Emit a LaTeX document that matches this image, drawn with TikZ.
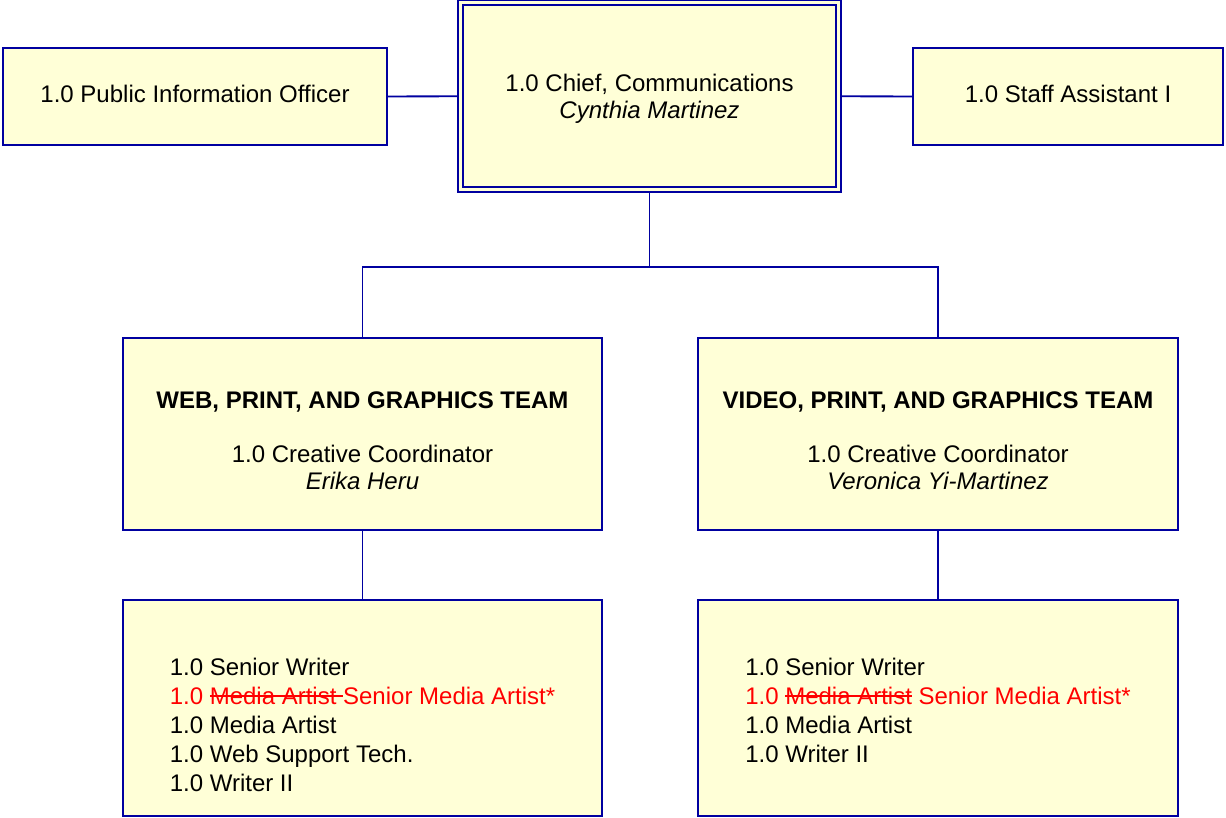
\documentclass[tikz,border=0pt]{standalone}
\usepackage{fontspec}
\setmainfont{Liberation Sans}
\usepackage{xcolor}
\definecolor{boxfill}{RGB}{255,255,215}
\definecolor{boxline}{RGB}{0,0,160}
\newcommand\crossout[1]{\setbox0\hbox{#1}\rlap{\rule[0.32em]{\wd0}{0.06em}}\box0\relax}
\tikzstyle{unitbox} = [draw=boxline, fill=boxfill, line width=1.4pt,
    rectangle, align=center, inner sep=0pt,
    font=\fontsize{18}{20.25}\selectfont]
\tikzstyle{chiefbox} = [unitbox, line width=1.3pt, double=boxfill, double distance=2.2pt]
\tikzstyle{staffbox} = [unitbox, align=left,
    font=\fontsize{18}{21.75}\selectfont]
\tikzstyle{link} = [draw=boxline, line width=1.4pt]

\begin{document}
\begin{tikzpicture}[x=0.75pt,y=-0.75pt]
\useasboundingbox (0,0) rectangle (1226,817);
\node [unitbox, minimum width=288pt, minimum height=72.75pt] (pio) at (195,96.5)
    {1.0 Public Information Officer\rule[-4.5pt]{0pt}{4.5pt}};
\node [chiefbox, minimum width=283.5pt, minimum height=140pt] (chief) at (649.5,96.25)
    {\rule{0pt}{16.3pt}1.0 Chief, Communications\\ \textit{Cynthia Martinez}};
\node [unitbox, minimum width=232.5pt, minimum height=72.75pt] (assistant) at (1068,96.5)
    {1.0 Staff Assistant I\rule[-4.5pt]{0pt}{4.5pt}};
\node [unitbox, minimum width=359.25pt, minimum height=144pt] (web) at (362.5,434)
    {\rule{0pt}{23.4pt}\textbf{WEB, PRINT, AND GRAPHICS TEAM}\\[20.25pt]
     1.0 Creative Coordinator\\ \textit{Erika Heru}};
\node [unitbox, minimum width=360pt, minimum height=144pt] (video) at (938,434)
    {\rule{0pt}{23.4pt}\textbf{VIDEO, PRINT, AND GRAPHICS TEAM}\\[20.25pt]
     1.0 Creative Coordinator\\ \textit{Veronica Yi-Martinez}};
\node [staffbox, minimum width=359.25pt, minimum height=162pt] (webstaff) at (362.5,708)
    {\rule{0pt}{38.25pt}1.0 Senior Writer\\
     \textcolor{red}{1.0 \crossout{Media Artist }Senior Media Artist*}\\
     1.0 Media Artist\\
     1.0 Web Support Tech.\\
     1.0 Writer II};
\node [staffbox, minimum width=360pt, minimum height=162pt] (videostaff) at (938,708)
    {\rule{0pt}{38.25pt}1.0 Senior Writer\\
     \textcolor{red}{1.0 \crossout{Media Artist} Senior Media Artist*}\\
     1.0 Media Artist\\
     1.0 Writer II\\
     \mbox{}};
% connectors
\draw [link] (pio.east) -- ([xshift=-1.75pt]chief.west);
\draw [link] ([xshift=1.75pt]chief.east) -- (assistant.west);
\draw [link] ([yshift=-1.75pt]chief.south) -- ++(0,74.5) coordinate (split);
\draw [link] (web.north) |- (split) -| (video.north);
\draw [link] (web.south) -- (webstaff.north);
\draw [link] (video.south) -- (videostaff.north);
\end{tikzpicture}
\end{document}
